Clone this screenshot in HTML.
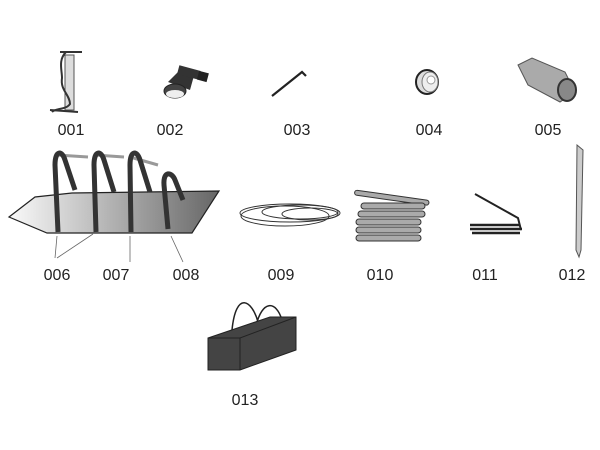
<!DOCTYPE html>
<html><head><meta charset="utf-8"><style>
html,body{margin:0;padding:0;background:#fff;width:600px;height:450px;overflow:hidden}
text{font-family:"Liberation Sans",sans-serif;font-size:16px;fill:#222}
</style></head><body>
<svg width="600" height="450" viewBox="0 0 600 450" xmlns="http://www.w3.org/2000/svg">
<defs>
<linearGradient id="bg" x1="0" x2="1" y1="0" y2="0">
<stop offset="0" stop-color="#fafafa"/><stop offset="1" stop-color="#666"/></linearGradient>
</defs>
<!-- 001 pump -->
<rect x="65" y="55" width="9" height="55" fill="#ddd" stroke="#555" stroke-width="1"/>
<path d="M66 52 C58 60,62 70,62 78 C60 90,70 95,70 104 C66 110,55 108,52 112" fill="none" stroke="#333" stroke-width="2"/>
<path d="M60 52 L82 52 M50 110 L78 112" stroke="#333" stroke-width="2"/>
<!-- 002 valve -->
<path d="M168 82 L180 70 L195 72 L190 90 Z" fill="#333"/>
<rect x="178" y="68" width="22" height="9" fill="#333" transform="rotate(15 189 72)"/>
<ellipse cx="175" cy="91" rx="11" ry="7" fill="#444" stroke="#222"/>
<ellipse cx="175" cy="94" rx="9" ry="4" fill="#eee"/>
<rect x="198" y="72" width="10" height="9" fill="#222" transform="rotate(15 203 76)"/>
<!-- 003 hex key -->
<path d="M272 96 L302 72 L306 76" fill="none" stroke="#222" stroke-width="2.2"/>
<!-- 004 -->
<ellipse cx="427" cy="82" rx="11" ry="12" fill="#ddd" stroke="#222" stroke-width="2"/>
<ellipse cx="430" cy="82" rx="8" ry="10" fill="#eee" stroke="#777"/>
<circle cx="431" cy="80" r="4" fill="#fff" stroke="#999"/>
<!-- 005 roll -->
<path d="M518 65 L532 58 L565 72 L575 92 L560 102 L528 85 Z" fill="#aaa" stroke="#555"/>
<ellipse cx="567" cy="90" rx="9" ry="11" fill="#888" stroke="#333" stroke-width="2"/>
<!-- 006 boat -->
<polygon points="9,217 35,197 72,193 219,191 192,233 47,233" fill="url(#bg)" stroke="#222" stroke-width="1.2"/>
<g fill="none" stroke="#999" stroke-width="3">
<path d="M57 155 L88 157 M95 155 L124 157 M130 157 L158 165"/>
</g>
<g fill="none" stroke="#333" stroke-width="5">
<path d="M58 232 L55 165 C55 150,62 150,65 160 L75 190"/>
<path d="M96 232 L94 165 C94 150,101 150,104 160 L114 192"/>
<path d="M131 232 L130 165 C130 150,137 150,140 160 L150 192"/>
<path d="M168 229 L164 185 C163 170,172 172,175 180 L183 200"/>
</g>
<g stroke="#666" stroke-width="0.8">
<path d="M57 236 L55 258 M93 234 L57 258 M130 236 L130 262 M171 236 L183 262"/>
</g>
<!-- 009 rope -->
<g fill="none" stroke="#333" stroke-width="1">
<ellipse cx="290" cy="213" rx="50" ry="9"/>
<ellipse cx="300" cy="212" rx="38" ry="7"/>
<ellipse cx="285" cy="216" rx="44" ry="10"/>
<ellipse cx="310" cy="214" rx="28" ry="6"/>
</g>
<!-- 010 poles -->
<g fill="#aaa" stroke="#333" stroke-width="1">
<rect x="355" y="190" width="75" height="5" rx="2.5" transform="rotate(8 355 190)"/>
<rect x="361" y="203" width="64" height="6" rx="3"/>
<rect x="358" y="211" width="67" height="6" rx="3"/>
<rect x="356" y="219" width="65" height="6" rx="3"/>
<rect x="356" y="227" width="65" height="6" rx="3"/>
<rect x="356" y="235" width="65" height="6" rx="3"/>
</g>
<!-- 011 -->
<path d="M475 194 L518 218 L521 230" fill="none" stroke="#222" stroke-width="2"/>
<g stroke="#222" stroke-width="2.5"><path d="M470 225 L520 225 M470 229 L522 229 M472 233 L520 233"/></g>
<!-- 012 peg -->
<path d="M577 145 L583 150 L581 250 L579 257 L576 250 Z" fill="#ccc" stroke="#555"/>
<!-- 013 bag -->
<path d="M232 330 C236 290,252 300,258 322 M256 326 C262 300,276 300,282 320" fill="none" stroke="#222" stroke-width="1.5"/>
<polygon points="208,338 270,317 296,317 296,350 240,370 208,370" fill="#444" stroke="#222"/>
<path d="M240 338 L240 370 M208 338 L240 338 L296 317" fill="none" stroke="#222"/>
<!-- labels -->
<text x="71" y="135" text-anchor="middle">001</text>
<text x="170" y="135" text-anchor="middle">002</text>
<text x="297" y="135" text-anchor="middle">003</text>
<text x="429" y="135" text-anchor="middle">004</text>
<text x="548" y="135" text-anchor="middle">005</text>
<text x="57" y="280" text-anchor="middle">006</text>
<text x="116" y="280" text-anchor="middle">007</text>
<text x="186" y="280" text-anchor="middle">008</text>
<text x="281" y="280" text-anchor="middle">009</text>
<text x="380" y="280" text-anchor="middle">010</text>
<text x="485" y="280" text-anchor="middle">011</text>
<text x="572" y="280" text-anchor="middle">012</text>
<text x="245" y="405" text-anchor="middle">013</text>
</svg>
</body></html>
